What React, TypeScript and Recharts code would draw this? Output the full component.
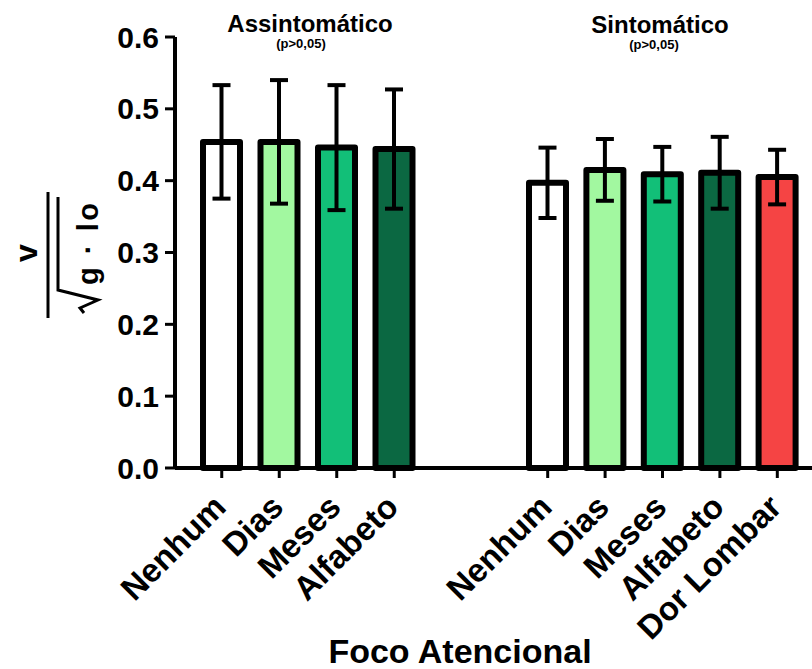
import React from 'react';
import { BarChart, Bar, XAxis, YAxis, ErrorBar, Cell } from 'recharts';

const assintCategories = ['Nenhum', 'Dias', 'Meses', 'Alfabeto'];
const assintMeans = [0.454, 0.454, 0.446, 0.444];
const assintErrors = [0.079, 0.086, 0.087, 0.083];

const sintCategories = ['Nenhum', 'Dias', 'Meses', 'Alfabeto', 'Dor Lombar'];
const sintMeans = [0.397, 0.415, 0.409, 0.411, 0.405];
const sintErrors = [0.049, 0.043, 0.038, 0.05, 0.038];

const yTicks = [0, 0.1, 0.2, 0.3, 0.4, 0.5, 0.6];

const assintColors = ['#ffffff', '#a2f8a0', '#12bf78', '#0b6842'];
const sintColors = ['#ffffff', '#a2f8a0', '#12bf78', '#0b6842', '#f54444'];

const FONT = '"Liberation Sans", Arial, Helvetica, sans-serif';

const assintData = assintCategories.map((name, i) => ({ name, mean: assintMeans[i], err: assintErrors[i] }));
const sintData = sintCategories.map((name, i) => ({ name, mean: sintMeans[i], err: sintErrors[i] }));

const XTick = (props: any) => {
  const { x, y, payload } = props;
  const px = x + 6;
  const py = y + 29;
  return (
    <text
      x={px}
      y={py}
      transform={`rotate(-45, ${px}, ${py})`}
      textAnchor="end"
      fontFamily={FONT}
      fontWeight="bold"
      fontSize={33}
      fill="#000"
    >
      {payload.value}
    </text>
  );
};

const axisLine = { stroke: '#000', strokeWidth: 4 };
const tickLine = { stroke: '#000', strokeWidth: 3 };

export default function App() {
  return (
    <div style={{ position: 'absolute', left: 0, top: 0, width: 812, height: 669, background: '#fff' }}>
      <div style={{ position: 'absolute', left: 0, top: 0 }}>
        <BarChart width={471} height={669} data={assintData} margin={{ top: 37, right: 0, bottom: 0, left: 95 }} barSize={37}>
          <XAxis
            dataKey="name"
            type="category"
            height={201}
            padding={{ left: 18, right: 48 }}
            axisLine={axisLine}
            tickLine={tickLine}
            tickSize={10}
            tickMargin={2}
            tick={<XTick />}
            interval={0}
          />
          <YAxis
            type="number"
            domain={[0, 0.6]}
            ticks={yTicks}
            width={80}
            axisLine={axisLine}
            tickLine={tickLine}
            tickSize={10}
            tickMargin={6}
            tickFormatter={(v: number) => v.toFixed(1)}
            tick={{ fontFamily: FONT, fontWeight: 'bold', fontSize: 30, fill: '#000' }}
            interval={0}
          />
          <Bar dataKey="mean" stroke="#000" strokeWidth={6} strokeLinejoin="round" isAnimationActive={false}>
            {assintData.map((d, i) => (
              <Cell key={d.name} fill={assintColors[i]} />
            ))}
            <ErrorBar dataKey="err" width={9} stroke="#000" strokeWidth={4} direction="y" isAnimationActive={false} />
          </Bar>
        </BarChart>
      </div>
      <div style={{ position: 'absolute', left: 300, top: 0 }}>
        <BarChart width={512} height={669} data={sintData} margin={{ top: 37, right: 0, bottom: 0, left: 171 }} barSize={37}>
          <XAxis
            dataKey="name"
            type="category"
            height={201}
            padding={{ left: 48, right: 6 }}
            axisLine={axisLine}
            tickLine={tickLine}
            tickSize={10}
            tickMargin={2}
            tick={<XTick />}
            interval={0}
          />
          <YAxis type="number" domain={[0, 0.6]} ticks={yTicks} hide />
          <Bar dataKey="mean" stroke="#000" strokeWidth={6} strokeLinejoin="round" isAnimationActive={false}>
            {sintData.map((d, i) => (
              <Cell key={d.name} fill={sintColors[i]} />
            ))}
            <ErrorBar dataKey="err" width={9} stroke="#000" strokeWidth={4} direction="y" isAnimationActive={false} />
          </Bar>
        </BarChart>
      </div>
      <svg
        width={812}
        height={669}
        style={{ position: 'absolute', left: 0, top: 0, pointerEvents: 'none', overflow: 'visible' }}
      >
        <g fontFamily={FONT} fontWeight="bold" fill="#000">
          <text x={310} y={32} textAnchor="middle" fontSize={24}>Assintomático</text>
          <text x={301} y={48} textAnchor="middle" fontSize={13}>(p&gt;0,05)</text>
          <text x={660} y={33} textAnchor="middle" fontSize={24}>Sintomático</text>
          <text x={654} y={49} textAnchor="middle" fontSize={13}>(p&gt;0,05)</text>
          <text x={460} y={663} textAnchor="middle" fontSize={34}>Foco Atencional</text>
          <g transform="translate(48, 255) rotate(-90)">
            <text x={2} y={-11} textAnchor="middle" fontSize={32}>v</text>
            <line x1={-63} y1={0} x2={63} y2={0} stroke="#000" strokeWidth={3} />
            <path d="M -58 36 L -53 32 L -45 50 L -35 10 L 58 10" fill="none" stroke="#000" strokeWidth={3} strokeLinejoin="miter" />
            <text x={-30} y={50} textAnchor="start" fontSize={29} textLength={82} lengthAdjust="spacing">g · lo</text>
          </g>
        </g>
      </svg>
    </div>
  );
}
